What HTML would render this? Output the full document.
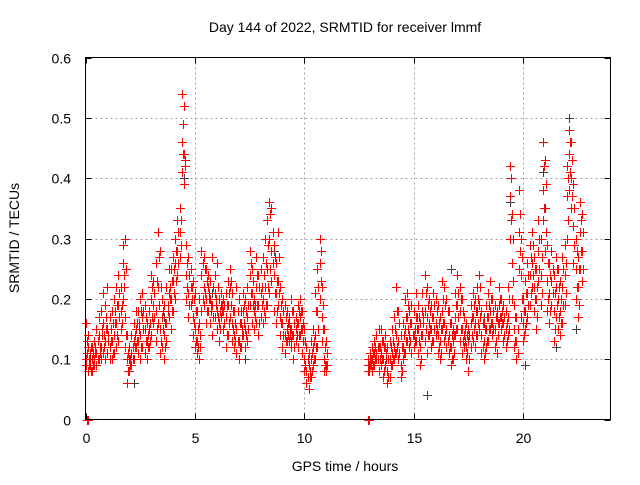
<!DOCTYPE html>
<html><head><meta charset="utf-8"><style>
html,body{margin:0;padding:0;background:#fff;}
svg text{font-family:"Liberation Sans",sans-serif;font-size:14px;fill:#000;}
</style></head><body>
<svg id="chart" width="640" height="480" viewBox="0 0 640 480" xmlns="http://www.w3.org/2000/svg">
<rect x="0" y="0" width="640" height="480" fill="#fff"/>
<text x="345" y="32" text-anchor="middle">Day 144 of 2022, SRMTID for receiver lmmf</text>
<text x="345" y="471" text-anchor="middle">GPS time / hours</text>
<text x="0" y="0" text-anchor="middle" transform="translate(19,238) rotate(-90)">SRMTID / TECUs</text>
<g id="grid"></g>
<g id="ticks"></g>
<g id="marks"></g>
<rect x="85.5" y="57.5" width="525" height="362" fill="none" stroke="#000" stroke-width="1"/>
</svg>
<script>
const xTicks=[0,5,10,15,20];
const yTicks=[0,0.1,0.2,0.3,0.4,0.5,0.6];
const yTickLabels=["0","0.1","0.2","0.3","0.4","0.5","0.6"];
const times=[0.0,0.1,0.2,0.3,0.4,0.5,0.6,0.7,0.8,0.9,1.0,1.1,1.2,1.3,1.4,1.5,1.6,1.7,1.8,1.9,2.0,2.1,2.2,2.3,2.4,2.5,2.6,2.7,2.8,2.9,3.0,3.1,3.2,3.3,3.4,3.5,3.6,3.7,3.8,3.9,4.0,4.1,4.2,4.3,4.4,4.5,4.6,4.7,4.8,4.9,5.0,5.1,5.2,5.3,5.4,5.5,5.6,5.7,5.8,5.9,6.0,6.1,6.2,6.3,6.4,6.5,6.6,6.7,6.8,6.9,7.0,7.1,7.2,7.3,7.4,7.5,7.6,7.7,7.8,7.9,8.0,8.1,8.2,8.3,8.4,8.5,8.6,8.7,8.8,8.9,9.0,9.1,9.2,9.3,9.4,9.5,9.6,9.7,9.8,9.9,10.0,10.1,10.2,10.3,10.4,10.5,10.6,10.7,10.8,10.9,11.0,
12.9,13.0,13.1,13.2,13.3,13.4,13.5,13.6,13.7,13.8,13.9,14.0,14.1,14.2,14.3,14.4,14.5,14.6,14.7,14.8,14.9,15.0,15.1,15.2,15.3,15.4,15.5,15.6,15.7,15.8,15.9,16.0,16.1,16.2,16.3,16.4,16.5,16.6,16.7,16.8,16.9,17.0,17.1,17.2,17.3,17.4,17.5,17.6,17.7,17.8,17.9,18.0,18.1,18.2,18.3,18.4,18.5,18.6,18.7,18.8,18.9,19.0,19.1,19.2,19.3,19.4,19.5,19.6,19.7,19.8,19.9,20.0,20.1,20.2,20.3,20.4,20.5,20.6,20.7,20.8,20.9,21.0,21.1,21.2,21.3,21.4,21.5,21.6,21.7,21.8,21.9,22.0,22.1,22.2,22.3,22.4,22.5,22.6,22.7];
const times2=[0.05,0.15,0.25,0.35,0.45,0.55,0.65,0.75,0.85,0.95,1.05,1.15,1.25,1.35,1.45,1.55,1.65,1.75,1.85,1.95,2.05,2.15,2.25,2.35,2.45,2.55,2.65,2.75,2.85,2.95,3.05,3.15,3.25,3.35,3.45,3.55,3.65,3.75,3.85,3.95,4.05,4.15,4.25,4.35,4.45,4.55,4.65,4.75,4.85,4.95,5.05,5.15,5.25,5.35,5.45,5.55,5.65,5.75,5.85,5.95,6.05,6.15,6.25,6.35,6.45,6.55,6.65,6.75,6.85,6.95,7.05,7.15,7.25,7.35,7.45,7.55,7.65,7.75,7.85,7.95,8.05,8.15,8.25,8.35,8.45,8.55,8.65,8.75,8.85,8.95,9.05,9.15,9.25,9.35,9.45,9.55,9.65,9.75,9.85,9.95,10.05,10.15,10.25,10.35,10.45,10.55,10.65,10.75,10.85,10.95,11.05,
12.95,13.05,13.15,13.25,13.35,13.45,13.55,13.65,13.75,13.85,13.95,14.05,14.15,14.25,14.35,14.45,14.55,14.65,14.75,14.85,14.95,15.05,15.15,15.25,15.35,15.45,15.55,15.65,15.75,15.85,15.95,16.05,16.15,16.25,16.35,16.45,16.55,16.65,16.75,16.85,16.95,17.05,17.15,17.25,17.35,17.45,17.55,17.65,17.75,17.85,17.95,18.05,18.15,18.25,18.35,18.45,18.55,18.65,18.75,18.85,18.95,19.05,19.15,19.25,19.35,19.45,19.55,19.65,19.75,19.85,19.95,20.05,20.15,20.25,20.35,20.45,20.55,20.65,20.75,20.85,20.95,21.05,21.15,21.25,21.35,21.45,21.55,21.65,21.75,21.85,21.95,22.05,22.15,22.25,22.35,22.45,22.55,22.65,22.75];
const valuesA=[.16,.12,.09,.10,.13,.11,.14,.12,.16,.13,.15,.12,.18,.20,.16,.19,.22,.29,.30,.10,.08,.11,.13,.15,.18,.20,.17,.15,.13,.18,.20,.23,.26,.31,.28,.12,.10,.13,.17,.25,.27,.30,.33,.35,.54,.52,.29,.27,.25,.23,.21,.18,.16,.28,.27,.25,.22,.20,.19,.21,.18,.16,.19,.20,.21,.23,.25,.21,.18,.15,.13,.16,.18,.15,.17,.28,.25,.20,.22,.19,.21,.27,.30,.33,.36,.35,.29,.26,.31,.22,.20,.19,.18,.17,.20,.18,.17,.19,.20,.18,.15,.12,.11,.13,.15,.21,.25,.30,.22,.15,.13,
.10,.11,.12,.13,.14,.12,.15,.13,.14,.12,.13,.15,.17,.22,.18,.14,.16,.20,.21,.18,.16,.14,.17,.19,.16,.18,.24,.22,.20,.19,.21,.20,.19,.17,.23,.22,.20,.18,.16,.15,.21,.24,.22,.20,.17,.16,.15,.19,.21,.20,.22,.24,.18,.16,.19,.21,.23,.20,.19,.18,.22,.20,.19,.18,.22,.42,.34,.19,.17,.38,.30,.20,.23,.26,.29,.31,.27,.25,.33,.30,.46,.43,.29,.26,.28,.24,.27,.25,.23,.27,.29,.42,.48,.46,.39,.30,.27,.36,.34];
const valuesB=[.10,.08,.11,.08,.10,.15,.10,.18,.11,.19,.11,.17,.13,.14,.22,.13,.15,.20,.17,.06,.12,.14,.16,.12,.13,.14,.12,.19,.16,.12,.14,.16,.18,.22,.15,.17,.14,.22,.21,.20,.23,.26,.28,.31,.46,.44,.24,.21,.19,.17,.15,.11,.10,.24,.22,.20,.18,.16,.14,.17,.15,.20,.17,.18,.17,.19,.22,.16,.14,.11,.10,.12,.14,.20,.22,.24,.21,.18,.16,.24,.17,.20,.22,.25,.30,.28,.24,.21,.23,.17,.16,.14,.15,.13,.15,.14,.15,.16,.17,.15,.10,.08,.05,.07,.12,.14,.18,.26,.17,.10,.09,
.09,.09,.10,.09,.11,.08,.11,.10,.09,.08,.10,.11,.12,.14,.13,.09,.12,.15,.17,.14,.11,.12,.13,.15,.12,.14,.18,.17,.16,.15,.17,.16,.14,.13,.18,.16,.15,.14,.12,.13,.17,.19,.18,.15,.14,.12,.13,.16,.17,.16,.18,.19,.14,.13,.15,.17,.18,.16,.15,.17,.19,.17,.16,.15,.17,.37,.26,.15,.13,.31,.24,.16,.18,.21,.24,.26,.22,.20,.28,.24,.38,.35,.23,.21,.23,.18,.22,.20,.18,.22,.24,.37,.44,.40,.32,.25,.22,.31,.28];
const valuesC=[.09,.14,.10,.12,.09,.09,.17,.10,.21,.10,.22,.10,.10,.11,.12,.24,.18,.26,.12,.14,.10,.09,.10,.18,.11,.10,.21,.11,.10,.15,.24,.19,.13,.16,.11,.20,.19,.16,.25,.15,.18,.20,.24,.27,.41,.39,.20,.17,.22,.14,.12,.13,.20,.18,.19,.16,.24,.23,.27,.24,.26,.13,.21,.15,.12,.14,.17,.13,.12,.22,.20,.18,.21,.12,.13,.19,.16,.15,.27,.14,.25,.16,.17,.19,.21,.23,.18,.16,.19,.14,.12,.11,.13,.16,.12,.10,.13,.12,.14,.11,.08,.06,.09,.10,.09,.10,.12,.20,.13,.08,.08,
.08,.10,.08,.11,.10,.15,.09,.07,.12,.06,.07,.09,.10,.11,.10,.07,.10,.11,.13,.12,.19,.18,.21,.11,.09,.21,.13,.11,.14,.12,.13,.14,.11,.10,.15,.13,.12,.11,.09,.10,.14,.15,.13,.11,.12,.10,.08,.12,.13,.12,.14,.15,.11,.10,.12,.13,.15,.14,.12,.11,.16,.15,.13,.12,.14,.30,.20,.12,.10,.25,.17,.13,.15,.17,.19,.22,.18,.15,.23,.19,.33,.28,.18,.16,.19,.13,.17,.15,.14,.16,.19,.30,.38,.35,.26,.20,.17,.25,.23];
const valuesD=[.13,.10,.12,.09,.11,.13,.12,.15,.14,.17,.13,.15,.16,.18,.19,.17,.19,.24,.25,.08,.10,.12,.14,.13,.16,.18,.15,.17,.14,.16,.22,.21,.23,.27,.22,.15,.12,.19,.20,.23,.25,.28,.31,.33,.49,.43,.26,.24,.22,.20,.18,.15,.14,.26,.25,.23,.20,.18,.17,.19,.17,.18,.18,.19,.19,.21,.23,.18,.16,.13,.12,.14,.16,.18,.19,.26,.23,.19,.19,.22,.19,.24,.26,.29,.34,.31,.27,.23,.27,.19,.18,.17,.16,.15,.18,.16,.16,.18,.18,.16,.13,.10,.08,.11,.13,.18,.22,.28,.19,.12,.11,
.09,.10,.11,.12,.12,.10,.13,.12,.11,.10,.12,.13,.15,.18,.16,.12,.14,.17,.19,.16,.14,.13,.15,.17,.14,.16,.21,.19,.18,.17,.19,.18,.16,.15,.20,.19,.18,.16,.14,.14,.19,.21,.20,.18,.15,.14,.14,.17,.19,.18,.20,.22,.16,.15,.17,.19,.20,.18,.17,.16,.20,.18,.17,.16,.20,.40,.30,.17,.15,.34,.27,.18,.21,.24,.27,.29,.25,.22,.30,.27,.42,.39,.26,.24,.25,.21,.25,.22,.20,.25,.26,.40,.46,.43,.35,.28,.25,.33,.31];
const valuesE=[.11,.09,.08,.11,.12,.10,.11,.14,.12,.15,.14,.13,.11,.16,.14,.21,.16,.22,.14,.11,.09,.10,.12,.16,.15,.12,.18,.13,.12,.13,.17,.17,.15,.19,.13,.18,.16,.18,.22,.18,.21,.23,.26,.29,.44,.42,.22,.19,.20,.16,.13,.12,.12,.20,.21,.18,.21,.19,.22,.20,.22,.15,.19,.16,.14,.16,.19,.15,.13,.18,.16,.15,.19,.14,.15,.21,.19,.17,.24,.16,.22,.18,.19,.22,.25,.26,.21,.18,.21,.16,.14,.13,.14,.14,.14,.12,.14,.14,.15,.13,.09,.07,.07,.08,.10,.12,.15,.23,.15,.09,.09,
.08,.09,.09,.10,.10,.12,.10,.08,.10,.07,.09,.10,.11,.12,.11,.08,.11,.13,.15,.13,.14,.15,.17,.13,.10,.17,.15,.14,.15,.13,.15,.15,.12,.11,.16,.14,.13,.12,.10,.11,.15,.17,.15,.13,.13,.11,.10,.14,.15,.14,.16,.17,.12,.11,.13,.15,.16,.15,.13,.14,.17,.16,.14,.13,.15,.33,.23,.13,.11,.28,.20,.14,.16,.19,.21,.24,.20,.17,.25,.21,.35,.31,.20,.18,.21,.15,.19,.17,.16,.19,.21,.33,.41,.37,.29,.22,.19,.28,.25];
const grayTimes=[0.3,2.2,3.6,4.5,5.8,7.3,8.6,9.4,13.8,15.6,16.7,18.2,19.4,20.1,20.9,21.5,22.1,22.4];
const grayValues=[.08,.06,.17,.40,.21,.10,.28,.13,.06,.04,.25,.17,.36,.09,.41,.12,.50,.15];
const zeroTimes=[0.05,0.1,12.9,12.95];
const zeroValues=[0,0,0,0];

const X0=85.5,X1=610.5,Y0=419.5,Y1=57.5,XMAX=24,YMAX=0.6;
function sx(t){return X0+(X1-X0)*t/XMAX;}
function sy(v){return Y0-(Y0-Y1)*v/YMAX;}
const NS="http://www.w3.org/2000/svg";
const grid=document.getElementById('grid'),ticks=document.getElementById('ticks'),marks=document.getElementById('marks');
function mk(tag,attrs,parent){const e=document.createElementNS(NS,tag);for(const k in attrs)e.setAttribute(k,attrs[k]);parent.appendChild(e);return e;}
xTicks.forEach(t=>{
  const x=Math.round(sx(t))+0.5;
  if(t>0){const g=mk('line',{x1:x,x2:x,y1:Y1,y2:Y0,stroke:'#a0a0a0','stroke-dasharray':'2,3'},grid);
  
  }
  const tk=mk('line',{x1:x,x2:x,y1:Y0,y2:Y0-6,stroke:'#000'},ticks);
  
  
  const tk2=mk('line',{x1:x,x2:x,y1:Y1,y2:Y1+6,stroke:'#000'},ticks);
  
  
  const l=mk('text',{x:x,y:443,'text-anchor':'middle'},ticks);l.textContent=String(t);
  
  
});
yTicks.forEach((v,i)=>{
  const y=Math.round(sy(v))+0.5;
  if(v>0&&v<YMAX){const g=mk('line',{x1:X0,x2:X1,y1:y,y2:y,stroke:'#a0a0a0','stroke-dasharray':'2,3'},grid);
  
  }
  const tk=mk('line',{x1:X0,x2:X0+6,y1:y,y2:y,stroke:'#000'},ticks);
  
  
  const tk2=mk('line',{x1:X1,x2:X1-6,y1:y,y2:y,stroke:'#000'},ticks);
  
  
  const l=mk('text',{x:71,y:y+5,'text-anchor':'end'},ticks);l.textContent=yTickLabels[i];
  
  
});
function plus(t,v,color,name){
  const x=Math.round(sx(t)),y=Math.round(sy(v));
  const p=mk('path',{d:`M${x-4} ${y}h9v1h-9zM${x} ${y-4}h1v9h-1z`,fill:color,stroke:'none'},marks);
  
  
}
grayTimes.forEach((t,i)=>plus(t,grayValues[i],'#404040','gray-point'));
[valuesA,valuesB,valuesC].forEach(arr=>times.forEach((t,i)=>plus(t,arr[i],'#ff0000','red-point')));
[valuesD,valuesE].forEach(arr=>times2.forEach((t,i)=>plus(t,arr[i],'#ff0000','red-point')));
zeroTimes.forEach((t,i)=>plus(t,zeroValues[i],'#ff0000','zero-point'));
</script>
</body></html>
